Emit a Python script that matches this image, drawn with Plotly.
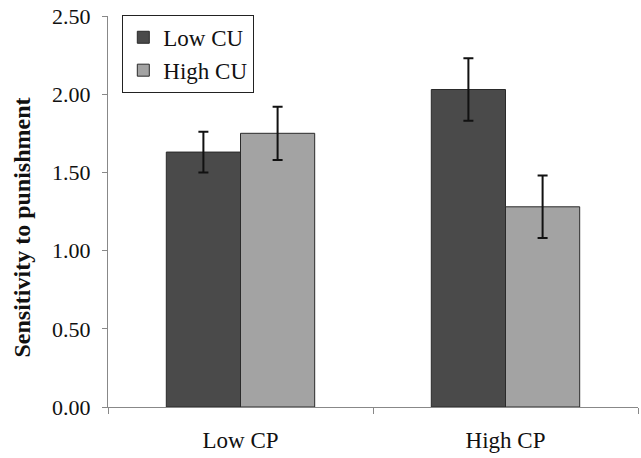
import plotly.graph_objects as go

categories = ["Low CP", "High CP"]
low_cu = [1.63, 2.03]
low_cu_err = [0.13, 0.20]
high_cu = [1.75, 1.28]
high_cu_err = [0.17, 0.20]
y_ticks = [0.0, 0.5, 1.0, 1.5, 2.0, 2.5]
y_ticklabels = ["0.00", "0.50", "1.00", "1.50", "2.00", "2.50"]
y_title = "Sensitivity to punishment"

serif = "Liberation Serif, Times New Roman, serif"

fig = go.Figure()
fig.add_trace(go.Bar(
    name="Low CU", x=categories, y=low_cu,
    marker=dict(color="#4a4a4a", line=dict(color="#2a2a2a", width=1)),
    error_y=dict(type="data", array=low_cu_err, color="#111111", thickness=2, width=5),
))
fig.add_trace(go.Bar(
    name="High CU", x=categories, y=high_cu,
    marker=dict(color="#a3a3a3", line=dict(color="#2a2a2a", width=1)),
    error_y=dict(type="data", array=high_cu_err, color="#111111", thickness=2, width=5),
))

fig.update_layout(
    width=641, height=458,
    margin=dict(l=108, r=3, t=16, b=51),
    paper_bgcolor="white", plot_bgcolor="white",
    barmode="group", bargap=0.44, bargroupgap=0,
    font=dict(family=serif, size=22, color="#111111"),
    legend=dict(
        x=0.027, y=1.003, xanchor="left", yanchor="top",
        bordercolor="#222222", borderwidth=1, bgcolor="white",
        font=dict(family=serif, size=23),
        itemwidth=30, tracegroupgap=6,
    ),
    showlegend=True,
    annotations=[dict(
        text="<b>" + y_title + "</b>", textangle=-90,
        xref="paper", yref="paper", x=-0.163, y=0.458,
        xanchor="center", yanchor="middle", showarrow=False,
        font=dict(family=serif, size=24, color="#111111"),
    )],
)
fig.update_xaxes(
    showline=True, linecolor="#888888", linewidth=1,
    ticks="outside", tickson="boundaries", ticklen=6, tickcolor="#888888",
    tickfont=dict(family=serif, size=23), showgrid=False,
    ticklabelstandoff=12,
)
fig.update_yaxes(
    range=[0, 2.5], tickvals=y_ticks, ticktext=y_ticklabels,
    showline=True, linecolor="#888888", linewidth=1,
    ticks="outside", ticklen=5, tickcolor="#888888",
    tickfont=dict(family=serif, size=22), showgrid=False, zeroline=False,
    ticklabelstandoff=7,
)

fig.write_html(
    "out.html",
    config={"displayModeBar": False},
    post_script="document.body.style.margin='0';document.body.style.overflow='hidden';",
)
